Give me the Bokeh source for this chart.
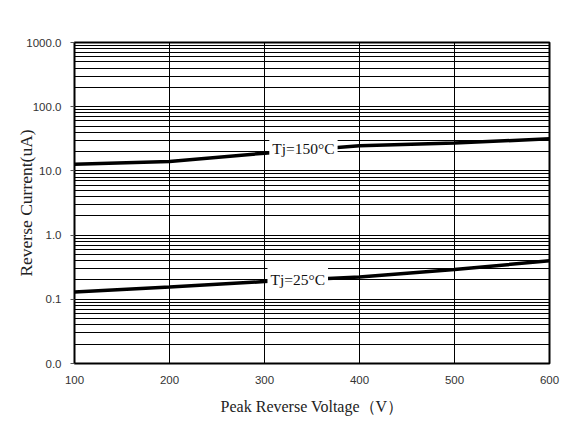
from bokeh.plotting import figure
from bokeh.models import FixedTicker, CustomJSTickFormatter, Label, Range1d
from bokeh.embed import file_html
from bokeh.resources import INLINE

# ---- data ----
voltage = [100, 200, 300, 400, 500, 600]
current_150 = [12.7, 14.0, 18.9, 24.6, 27.1, 31.6]
current_25 = [0.130, 0.156, 0.189, 0.223, 0.291, 0.398]
y_major = [0.01, 0.1, 1, 10, 100, 1000]
y_minor = [m * d for d in [0.01, 0.1, 1, 10, 100] for m in range(2, 10)]
x_ticks = [100, 200, 300, 400, 500, 600]
label_150 = "Tj=150°C"
label_25 = "Tj=25°C"

p = figure(width=585, height=421, y_axis_type="log",
           x_range=Range1d(100, 600), y_range=Range1d(0.01, 1000),
           output_backend="svg", toolbar_location=None,
           min_border_left=74, min_border_right=36,
           min_border_top=42, min_border_bottom=58)
p.background_fill_color = "white"
p.border_fill_color = "white"
p.outline_line_color = "black"
p.outline_line_width = 2

# axes
p.xaxis.ticker = FixedTicker(ticks=x_ticks)
p.yaxis.ticker = FixedTicker(ticks=y_major, minor_ticks=y_minor)
p.yaxis.formatter = CustomJSTickFormatter(code="return tick.toFixed(1);")
for ax in (p.xaxis[0], p.yaxis[0]):
    ax.axis_line_color = None
    ax.minor_tick_line_color = None
    ax.major_label_text_font = "Liberation Sans"
    ax.major_label_text_font_size = "11.5px"
    ax.major_label_text_color = "#333333"
    ax.axis_label_text_font = "Liberation Serif"
    ax.axis_label_text_font_style = "normal"
    ax.axis_label_text_color = "#222222"

p.xaxis.major_tick_line_color = None
p.xaxis.major_tick_out = 0
p.xaxis.major_tick_in = 0
p.xaxis.major_label_standoff = 12
p.xaxis.axis_label = "Peak Reverse Voltage（V）"
p.xaxis.axis_label_text_font_size = "16px"
p.xaxis.axis_label_standoff = 11

p.yaxis.major_tick_line_color = "#555555"
p.yaxis.major_tick_out = 4
p.yaxis.major_tick_in = 0
p.yaxis.major_label_standoff = 9
p.yaxis.axis_label = "Reverse Current(uA)"
p.yaxis.axis_label_text_font_size = "17.5px"
p.yaxis.axis_label_standoff = -13

# grid
p.xgrid.grid_line_color = "black"
p.xgrid.grid_line_width = 1
p.ygrid.grid_line_color = "black"
p.ygrid.grid_line_width = 1
p.ygrid.minor_grid_line_color = "black"
p.ygrid.minor_grid_line_width = 1

# curves
p.line(voltage, current_150, line_color="black", line_width=3.5)
p.line(voltage, current_25, line_color="black", line_width=3.5)

# labels
for txt, x, y in [(label_150, 341, 22.5), (label_25, 335, 0.205)]:
    p.add_layout(Label(x=x, y=y, text=txt, text_align="center", text_baseline="middle",
                       text_font="Liberation Serif", text_font_size="15.5px",
                       text_color="#111111",
                       background_fill_color="white", padding=3))

open("out.html", "w").write(file_html(p, INLINE))
